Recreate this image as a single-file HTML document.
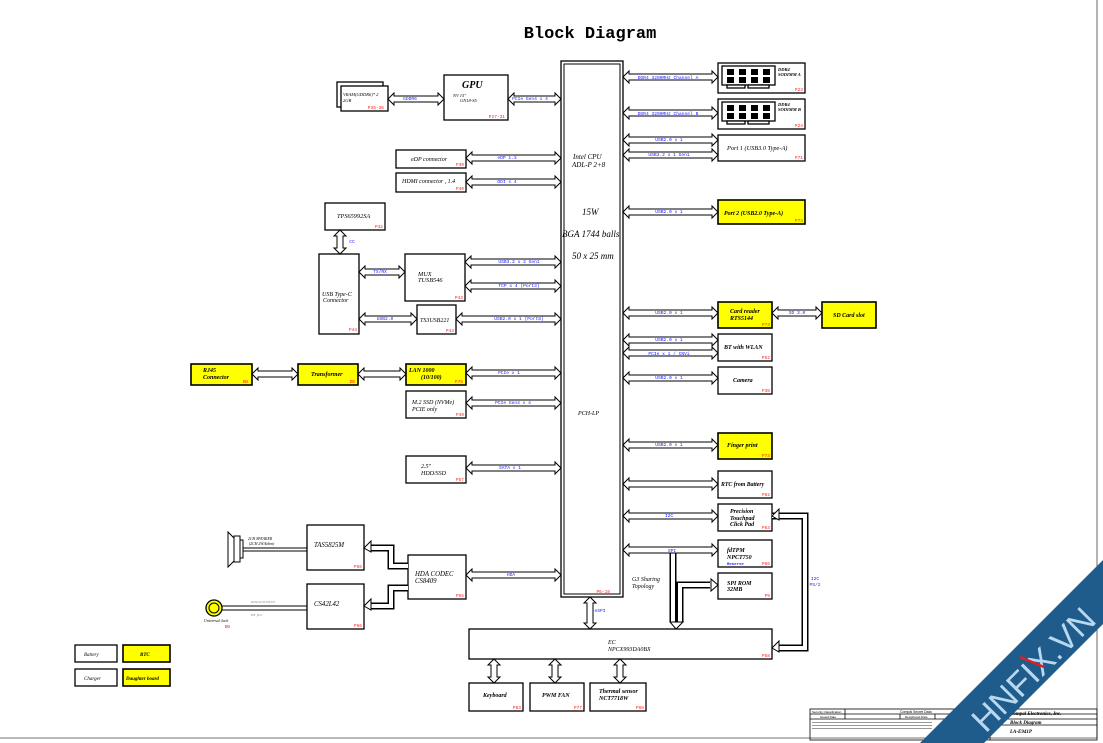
<!DOCTYPE html>
<html><head><meta charset="utf-8">
<style>
html,body{margin:0;padding:0;background:#fff;}
svg{display:block;font-size:7px;}
.b{fill:#fff;stroke:#000;stroke-width:1.3;}
.y{fill:#ffff00;stroke:#000;stroke-width:1.6;}
.t{font-family:"Liberation Serif",serif;font-style:italic;fill:#000;}
.tb{font-family:"Liberation Serif",serif;font-style:italic;font-weight:bold;fill:#000;}
.l{font-family:"Liberation Mono",monospace;font-size:4.6px;fill:#2020ff;text-anchor:middle;}
.r{font-family:"Liberation Mono",monospace;font-size:4.5px;fill:#ff2020;text-anchor:end;}
.ar{fill:#fff;stroke:#000;stroke-width:1;}
</style></head>
<body>
<svg id="s" width="1103" height="743" viewBox="0 0 1103 743" xmlns="http://www.w3.org/2000/svg">
<rect width="1103" height="743" fill="#fff"/>
<text x="590" y="38" text-anchor="middle" font-family="Liberation Mono,monospace" font-weight="bold" font-size="17" fill="#000">Block Diagram</text>

<line x1="1097" y1="0" x2="1097" y2="738" stroke="#444" stroke-width="0.8"/>
<line x1="0" y1="738" x2="1097" y2="738" stroke="#444" stroke-width="0.8"/>

<!-- CPU -->
<rect x="561" y="61" width="62" height="536" fill="#fff" stroke="#000" stroke-width="1.3"/>
<rect x="564" y="64" width="56" height="530" fill="none" stroke="#000" stroke-width="1"/>
<text class="t" x="573" y="159" font-size="7">Intel  CPU</text>
<text class="t" x="572" y="167" font-size="7">ADL-P 2+8</text>
<text class="t" x="582" y="215" font-size="9">15W</text>
<text class="t" x="562" y="237" font-size="9">BGA 1744 balls</text>
<text class="t" x="572" y="259" font-size="9">50 x 25 mm</text>
<text class="t" x="578" y="415" font-size="6">PCH-LP</text>
<text class="r" x="610" y="593">P6-19</text>

<!-- GPU / VRAM -->
<rect class="b" x="337" y="82" width="46" height="25"/>
<rect class="b" x="341" y="86" width="47" height="25"/>
<text class="t" x="343" y="96" font-size="4.5">VRAM(GDDR6)* 2</text>
<text class="t" x="343" y="102" font-size="4.5">2GB</text>
<text class="r" x="384" y="109">P35-36</text>
<rect class="b" x="444" y="75" width="64" height="45"/>
<text class="t" x="462" y="88" font-size="10" font-weight="bold">GPU</text>
<text class="t" x="453" y="97" font-size="4.5">NV 15"</text>
<text class="t" x="460" y="102" font-size="4.5">GN18-S5</text>
<text class="r" x="505" y="118">P27-31</text>

<rect class="b" x="396" y="150" width="70" height="18"/>
<text class="t" x="411" y="161" font-size="6">eDP connector</text><text class="r" x="464" y="166">P39</text>
<rect class="b" x="396" y="173" width="70" height="19"/>
<text class="t" x="402" y="183" font-size="6">HDMI connector , 1.4</text><text class="r" x="464" y="190">P40</text>

<rect class="b" x="325" y="203" width="60" height="27"/>
<text class="t" x="337" y="218" font-size="6.3">TPS65992SA</text><text class="r" x="383" y="228">P42</text>
<rect class="b" x="319" y="254" width="40" height="80"/>
<text class="t" x="322" y="296" font-size="6">USB Type-C</text><text class="t" x="323" y="302" font-size="6">Connector</text><text class="r" x="357" y="331">P44</text>
<rect class="b" x="405" y="254" width="60" height="47"/>
<text class="t" x="418" y="276" font-size="6.3">MUX</text><text class="t" x="418" y="282" font-size="6.3">TUSB546</text><text class="r" x="463" y="299">P43</text>
<rect class="b" x="417" y="305" width="39" height="29"/>
<text class="t" x="420" y="322" font-size="6">TS3USB221</text><text class="r" x="454" y="332">P44</text>

<rect class="y" x="191" y="364" width="61" height="21"/>
<text class="tb" x="203" y="372" font-size="6">RJ45</text><text class="tb" x="203" y="379" font-size="6">Connector</text><text class="r" x="248" y="383">DB</text>
<rect class="y" x="298" y="364" width="60" height="21"/>
<text class="tb" x="311" y="376" font-size="6">Transformer</text><text class="r" x="355" y="383">DB</text>
<rect class="y" x="406" y="364" width="60" height="21"/>
<text class="tb" x="409" y="372" font-size="6">LAN 1000</text><text class="tb" x="421" y="379" font-size="6">(10/100)</text><text class="r" x="463" y="383">P75</text>
<rect class="b" x="406" y="391" width="60" height="27"/>
<text class="t" x="412" y="404" font-size="6">M.2 SSD (NVMe)</text><text class="t" x="412" y="411" font-size="6">PCIE only</text><text class="r" x="464" y="416">P49</text>
<rect class="b" x="406" y="456" width="60" height="27"/>
<text class="t" x="421" y="468" font-size="6">2.5"</text><text class="t" x="421" y="475" font-size="6">HDD/SSD</text><text class="r" x="464" y="481">P57</text>

<rect class="b" x="307" y="525" width="57" height="45"/>
<text class="t" x="314" y="547" font-size="6.8">TAS5825M</text><text class="r" x="362" y="568">P56</text>
<rect class="b" x="307" y="584" width="57" height="45"/>
<text class="t" x="314" y="606" font-size="6.8">CS42L42</text><text class="r" x="362" y="627">P56</text>
<rect class="b" x="408" y="555" width="58" height="44"/>
<text class="t" x="415" y="576" font-size="6.8">HDA CODEC</text><text class="t" x="415" y="583" font-size="6.8">CS8409</text><text class="r" x="464" y="597">P55</text>

<!-- speaker -->
<polygon points="228,532 234,538 234,561 228,567" fill="#fff" stroke="#000" stroke-width="1"/>
<rect x="234" y="536" width="6" height="26" fill="#fff" stroke="#000" stroke-width="1"/>
<rect x="240" y="540" width="3" height="18" fill="#fff" stroke="#000" stroke-width="1"/>
<line x1="243" y1="548" x2="307" y2="548" stroke="#000" stroke-width="1"/>
<line x1="243" y1="551" x2="307" y2="551" stroke="#000" stroke-width="1"/>
<text class="t" x="248" y="540" font-size="3.8">2CH  SPEAKER</text><text class="t" x="249" y="545" font-size="3.8">(2CH  2W/4ohm)</text>
<!-- jack -->
<circle cx="214" cy="608" r="8" fill="#ffff00" stroke="#000" stroke-width="1.3"/>
<circle cx="214" cy="608" r="5" fill="#ffff00" stroke="#000" stroke-width="1"/>
<line x1="222" y1="606" x2="307" y2="606" stroke="#000" stroke-width="1"/>
<line x1="222" y1="610" x2="307" y2="610" stroke="#000" stroke-width="1"/>
<text x="251" y="603" font-family="Liberation Serif,serif" font-size="3.5" fill="#888">RING2/SLEEVE</text>
<text x="251" y="616" font-family="Liberation Serif,serif" font-size="3.5" fill="#888">HP_R/L</text>
<text class="t" x="204" y="622" font-size="4">Universal Jack</text><text class="r" x="230" y="628">DB</text>

<!-- legend -->
<rect class="b" x="75" y="645" width="42" height="17"/><text class="t" x="84" y="656" font-size="5">Battery</text>
<rect class="y" x="123" y="645" width="47" height="17"/><text class="tb" x="140" y="656" font-size="5">RTC</text>
<rect class="b" x="75" y="669" width="42" height="17"/><text class="t" x="84" y="680" font-size="5">Charger</text>
<rect class="y" x="123" y="669" width="47" height="17"/><text class="tb" x="126" y="680" font-size="5">Daughter board</text>

<!-- right side boxes -->
<rect class="b" x="718" y="63" width="87" height="30"/>
<rect class="b" x="722" y="66" width="53" height="19"/>
<g fill="#000"><rect x="727" y="69" width="7" height="6"/><rect x="739" y="69" width="7" height="6"/><rect x="751" y="69" width="7" height="6"/><rect x="763" y="69" width="7" height="6"/><rect x="727" y="77" width="7" height="6"/><rect x="739" y="77" width="7" height="6"/><rect x="751" y="77" width="7" height="6"/><rect x="763" y="77" width="7" height="6"/></g>
<rect class="b" x="727" y="85" width="18" height="3"/><rect class="b" x="748" y="85" width="21" height="3"/>
<text class="t" x="778" y="71" font-size="4.5" font-weight="bold">DDR4</text><text class="t" x="778" y="76" font-size="4.5" font-weight="bold">SODIMM A</text><text class="r" x="803" y="91">P23</text>
<rect class="b" x="718" y="99" width="87" height="30"/>
<rect class="b" x="722" y="102" width="53" height="19"/>
<g fill="#000"><rect x="727" y="105" width="7" height="6"/><rect x="739" y="105" width="7" height="6"/><rect x="751" y="105" width="7" height="6"/><rect x="763" y="105" width="7" height="6"/><rect x="727" y="113" width="7" height="6"/><rect x="739" y="113" width="7" height="6"/><rect x="751" y="113" width="7" height="6"/><rect x="763" y="113" width="7" height="6"/></g>
<rect class="b" x="727" y="121" width="18" height="3"/><rect class="b" x="748" y="121" width="21" height="3"/>
<text class="t" x="778" y="106" font-size="4.5" font-weight="bold">DDR4</text><text class="t" x="778" y="111" font-size="4.5" font-weight="bold">SODIMM B</text><text class="r" x="803" y="127">P24</text>

<rect class="b" x="718" y="135" width="87" height="26"/>
<text class="t" x="727" y="150" font-size="6.3">Port 1 (USB3.0 Type-A)</text><text class="r" x="803" y="159">P71</text>
<rect class="y" x="718" y="200" width="87" height="24"/>
<text class="tb" x="724" y="215" font-size="6">Port 2 (USB2.0 Type-A)</text><text class="r" x="803" y="222">P73</text>
<rect class="y" x="718" y="302" width="54" height="26"/>
<text class="tb" x="730" y="313" font-size="6">Card reader</text><text class="tb" x="730" y="320" font-size="6">RTS5144</text><text class="r" x="770" y="326">P73</text>
<rect class="y" x="822" y="302" width="54" height="26"/>
<text class="tb" x="833" y="317" font-size="6">SD Card slot</text>
<rect class="b" x="718" y="334" width="54" height="27"/>
<text class="t" x="724" y="349" font-size="6" font-weight="bold">BT with WLAN</text><text class="r" x="770" y="359">P52</text>
<rect class="b" x="718" y="367" width="54" height="27"/>
<text class="t" x="733" y="382" font-size="6" font-weight="bold">Camera</text><text class="r" x="770" y="392">P38</text>
<rect class="y" x="718" y="433" width="54" height="26"/>
<text class="tb" x="727" y="447" font-size="6">Finger print</text><text class="r" x="770" y="457">P73</text>
<rect class="b" x="718" y="471" width="54" height="27"/>
<text class="t" x="721" y="486" font-size="5.8" font-weight="bold">RTC from Battery</text><text class="r" x="770" y="496">P62</text>
<rect class="b" x="718" y="504" width="54" height="27"/>
<text class="t" x="730" y="513" font-size="6" font-weight="bold">Precision</text><text class="t" x="730" y="520" font-size="6" font-weight="bold">Touchpad</text><text class="t" x="730" y="526" font-size="6" font-weight="bold">Click Pad</text><text class="r" x="770" y="529">P63</text>
<rect class="b" x="718" y="540" width="54" height="27"/>
<text class="t" x="727" y="552" font-size="6" font-weight="bold">fdTPM</text><text class="t" x="727" y="559" font-size="6" font-weight="bold">NPCT750</text>
<text x="727" y="565" font-family="Liberation Mono,monospace" font-size="4" fill="#2020ff" font-weight="bold">Reserve</text><text class="r" x="770" y="565">P66</text>
<rect class="b" x="718" y="573" width="54" height="26"/>
<text class="t" x="727" y="585" font-size="6" font-weight="bold">SPI ROM</text><text class="t" x="727" y="591" font-size="6" font-weight="bold">32MB</text><text class="r" x="770" y="597">P9</text>
<text class="t" x="632" y="581" font-size="6">G3 Sharing</text><text class="t" x="632" y="588" font-size="6">Topology</text>

<rect class="b" x="469" y="629" width="303" height="30"/>
<text class="t" x="608" y="644" font-size="6">EC</text><text class="t" x="608" y="651" font-size="6">NPCX993DA0BX</text><text class="r" x="770" y="657">P58</text>
<rect class="b" x="469" y="683" width="54" height="28"/><text class="t" x="483" y="697" font-size="6" font-weight="bold">Keyboard</text><text class="r" x="521" y="709">P63</text>
<rect class="b" x="530" y="683" width="54" height="28"/><text class="t" x="542" y="697" font-size="6" font-weight="bold">PWM FAN</text><text class="r" x="582" y="709">P77</text>
<rect class="b" x="590" y="683" width="56" height="28"/><text class="t" x="599" y="693" font-size="6" font-weight="bold">Thermal sensor</text><text class="t" x="599" y="700" font-size="6" font-weight="bold">NCT7718W</text><text class="r" x="644" y="709">P66</text>

<!-- elbow connectors -->
<g fill="none" stroke-linejoin="miter">
 <path d="M408,566 H391 V548 H370" stroke="#000" stroke-width="7"/>
 <path d="M408,566 H391 V548 H370" stroke="#fff" stroke-width="4"/>
 <path d="M408,588 H391 V606 H370" stroke="#000" stroke-width="7"/>
 <path d="M408,588 H391 V606 H370" stroke="#fff" stroke-width="4"/>
 <path d="M772,516 H805 V648 H778" stroke="#000" stroke-width="7"/>
 <path d="M772,516 H805 V648 H778" stroke="#fff" stroke-width="4"/>
 <path d="M673,552 V622" stroke="#000" stroke-width="7"/>
 <path d="M673,552 V622" stroke="#fff" stroke-width="4"/>
 <path d="M710,585 H680 V622" stroke="#000" stroke-width="7"/>
 <path d="M710,585 H680 V622" stroke="#fff" stroke-width="4"/>
</g>
<g class="ar">
 <polygon points="364,548 371,541 371,552"/>
 <polygon points="364,606 371,599 371,610"/>
 <polygon points="772,516 779,509 779,520"/>
 <polygon points="772,648 779,641 779,652"/>
 <polygon points="718,585 711,579 711,591"/>
 <polygon points="670,622 683,622 676,629"/>
</g>
<text class="l" x="815" y="580">I2C</text><text class="l" x="815" y="586">PS/2</text>

<g id="arr"></g>

<!-- arrow labels -->
<text class="l" x="410" y="100">GDDR6</text>
<text class="l" x="530" y="100">PCIe Gen4 x 4</text>
<text class="l" x="507" y="159">eDP 1.3</text>
<text class="l" x="507" y="183">DDI x 4</text>
<text class="l" x="352" y="243">CC</text>
<text class="l" x="380" y="273">TX/RX</text>
<text class="l" x="519" y="263">USB3.2 x 2 Gen1</text>
<text class="l" x="519" y="287">TCP x 4 (Port3)</text>
<text class="l" x="385" y="320">USB2.0</text>
<text class="l" x="519" y="320">USB2.0 x 1 (Port8)</text>
<text class="l" x="509" y="374">PCIe x 1</text>
<text class="l" x="513" y="404">PCIe Gen4 x 4</text>
<text class="l" x="510" y="469">SATA x 1</text>
<text class="l" x="511" y="576">HDA</text>
<text class="l" x="600" y="612">eSPI</text>
<text class="l" x="668" y="79">DDR4 3200MHz Channel A</text>
<text class="l" x="668" y="115">DDR4 3200MHz Channel B</text>
<text class="l" x="669" y="141">USB2.0 x 1</text>
<text class="l" x="669" y="156">USB3.2 x 1 Gen1</text>
<text class="l" x="669" y="213">USB2.0 x 1</text>
<text class="l" x="669" y="314">USB2.0 x 1</text>
<text class="l" x="797" y="314">SD 3.0</text>
<text class="l" x="669" y="341">USB2.0 x 1</text>
<text class="l" x="669" y="355">PCIe x 1 / CNVi</text>
<text class="l" x="669" y="379">USB2.0 x 1</text>
<text class="l" x="669" y="446">USB2.0 x 1</text>
<text class="l" x="669" y="517">I2C</text>
<text class="l" x="672" y="552">SPI</text>

<!-- title block -->
<g stroke="#000" fill="none" stroke-width="0.8">
<rect x="810" y="709" width="287" height="31"/>
<line x1="810" y1="714" x2="1097" y2="714"/><line x1="810" y1="719" x2="1097" y2="719"/>
<line x1="845" y1="709" x2="845" y2="719"/><line x1="900" y1="714" x2="900" y2="719"/><line x1="935" y1="714" x2="935" y2="719"/>
<line x1="990" y1="709" x2="990" y2="740"/><line x1="990" y1="725" x2="1097" y2="725"/>
</g>
<text x="812" y="713" font-family="Liberation Sans,sans-serif" font-size="3">Security Classification</text>
<text x="900" y="713" font-family="Liberation Sans,sans-serif" font-size="3.5">Compal Secret Data</text>
<text x="820" y="718" font-family="Liberation Sans,sans-serif" font-size="3">Issued Date</text>
<text x="905" y="718" font-family="Liberation Sans,sans-serif" font-size="3">Deciphered Date</text>
<text x="1010" y="715" font-family="Liberation Serif,serif" font-style="italic" font-weight="bold" font-size="5">Compal Electronics, Inc.</text>
<text x="1010" y="724" font-family="Liberation Serif,serif" font-style="italic" font-weight="bold" font-size="5">Block Diagram</text>
<text x="1010" y="733" font-family="Liberation Serif,serif" font-style="italic" font-weight="bold" font-size="5">LA-E941P</text>
<g fill="#999"><rect x="812" y="722" width="120" height="1"/><rect x="812" y="725" width="120" height="1"/><rect x="812" y="728" width="120" height="1"/></g>

<!-- watermark -->
<polygon points="920,743 1103,560 1103,624 984,743" fill="#1f5c8c"/>
<text x="0" y="0" transform="translate(1034,670) rotate(-45)" text-anchor="middle" dominant-baseline="central" font-family="Liberation Sans,sans-serif" font-size="34" fill="#b8d8f0">HNFIX.VN</text>
<line x1="1020" y1="657" x2="1044" y2="667" stroke="#e02020" stroke-width="2.5"/>
</svg>
<script>
(function(){
var g=document.getElementById('arr'),ns='http://www.w3.org/2000/svg';
function h(a,b,y){return a+','+y+' '+(a+6)+','+(y-6)+' '+(a+6)+','+(y-3)+' '+(b-6)+','+(y-3)+' '+(b-6)+','+(y-6)+' '+b+','+y+' '+(b-6)+','+(y+6)+' '+(b-6)+','+(y+3)+' '+(a+6)+','+(y+3)+' '+(a+6)+','+(y+6);}
function v(x,a,b){return x+','+a+' '+(x+6)+','+(a+6)+' '+(x+3)+','+(a+6)+' '+(x+3)+','+(b-6)+' '+(x+6)+','+(b-6)+' '+x+','+b+' '+(x-6)+','+(b-6)+' '+(x-3)+','+(b-6)+' '+(x-3)+','+(a+6)+' '+(x-6)+','+(a+6);}
var H=[[388,444,99],[508,561,99],[466,561,158],[466,561,182],[359,405,272],[465,561,262],[465,561,286],[359,417,319],[456,561,319],
[252,298,374],[358,406,374],[466,561,373],[466,561,403],[466,561,468],[466,561,575],
[623,718,77],[623,718,113],[623,718,140],[623,718,155],[623,718,212],[623,718,313],[772,822,313],[623,718,340],[623,718,353],[623,718,378],
[623,718,445],[623,718,484],[623,718,516],[623,718,550]];
var V=[[340,230,254],[590,597,629],[494,659,683],[555,659,683],[620,659,683]];
H.forEach(function(p){var e=document.createElementNS(ns,'polygon');e.setAttribute('points',h(p[0],p[1],p[2]));e.setAttribute('class','ar');g.appendChild(e);});
V.forEach(function(p){var e=document.createElementNS(ns,'polygon');e.setAttribute('points',v(p[0],p[1],p[2]));e.setAttribute('class','ar');g.appendChild(e);});
})();
</script>
</body></html>
